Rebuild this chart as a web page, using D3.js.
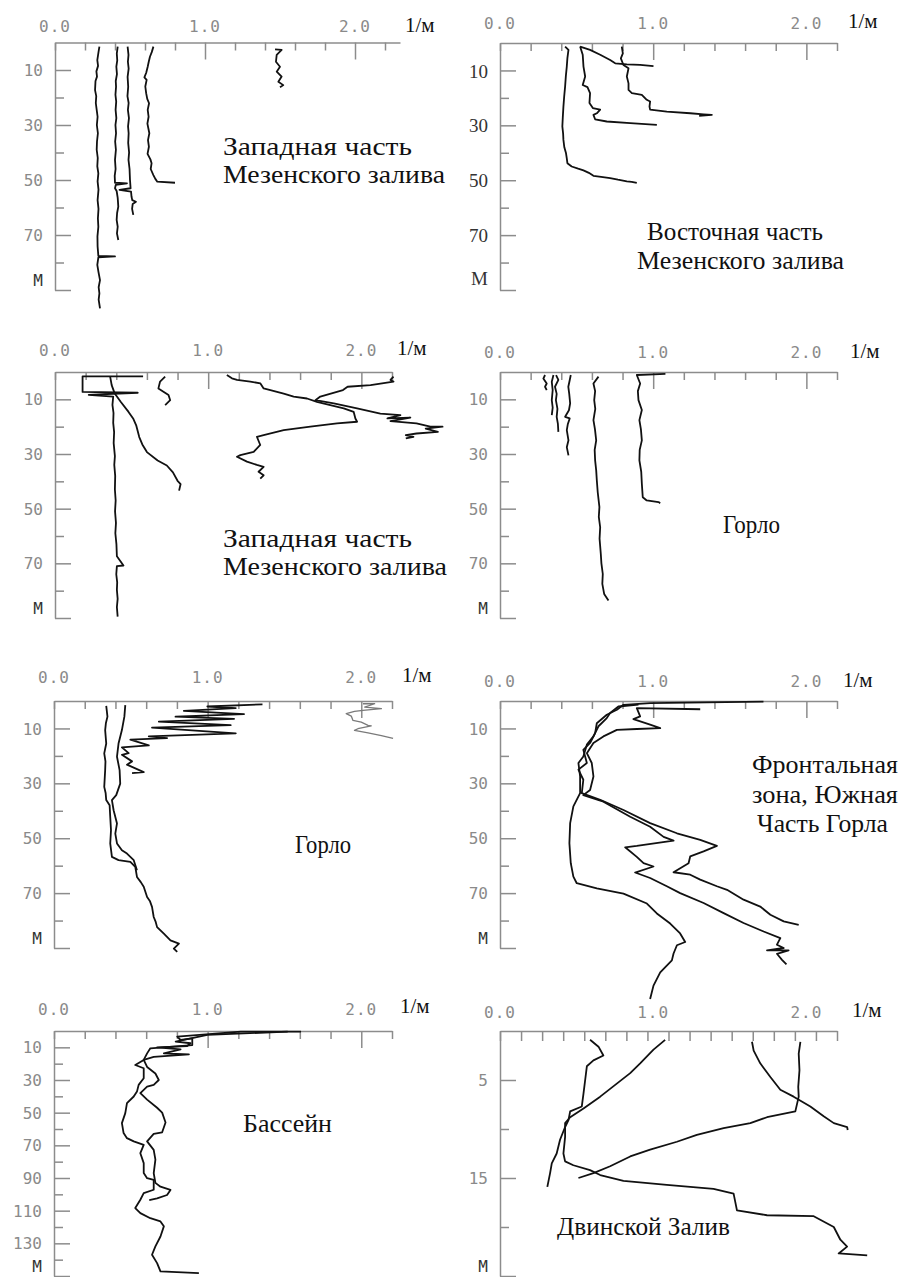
<!DOCTYPE html>
<html>
<head>
<meta charset="utf-8">
<script src="https://cdn.jsdelivr.net/npm/d3@7"></script>
<style>
  body { margin: 0; background: #fff; }
  .axis path, .axis line { stroke: #8c8c8c; stroke-width: 1.5; }
  .axis text { font-family: "DejaVu Sans Mono", monospace; font-size: 16px; fill: #8a8a8a; }
  .axis.serif text { font-family: "Liberation Serif", serif; font-size: 19px; fill: #333; }
  .xlab { font-family: "DejaVu Sans Mono", monospace; font-size: 16px; fill: #8a8a8a; letter-spacing: 1px; }
  .profile { fill: none; stroke: #111; stroke-width: 1.8; stroke-linejoin: round; }
  .profile.grey { stroke: #7a7a7a; stroke-width: 1.3; }
  .title { font-family: "Liberation Serif", serif; font-size: 26px; fill: #111; }
  .unit { font-family: "Liberation Serif", serif; font-size: 21px; fill: #111; }
</style>
</head>
<body>
<div id="chart"></div>
<script>
// ---- data: profiles as [value 1/м, depth м] ----

// Западная часть Мезенского залива (1)
const p1a = [[0.296,1.5],[0.29,3.5],[0.282,6.4],[0.287,8.5],[0.276,10.5],[0.28,12.4],[0.27,14],[0.267,17.3],[0.275,19.5],[0.272,22],[0.278,24.5],[0.284,27],[0.279,30],[0.286,33],[0.28,36],[0.278,39],[0.285,42],[0.282,45],[0.289,47.6],[0.284,50.5],[0.29,53.5],[0.284,57.3],[0.29,60.5],[0.286,64],[0.289,67],[0.283,70.5],[0.284,74.2],[0.289,77.6],[0.4,77.8],[0.289,78.1],[0.282,80.9],[0.29,83.5],[0.3,86.4],[0.291,89],[0.296,91.2],[0.291,93.5],[0.3,96.7]]
const p1b = [[0.418,1.5],[0.412,4],[0.415,6.5],[0.409,8.8],[0.413,11.5],[0.405,14],[0.407,16.1],[0.403,19],[0.408,21.5],[0.404,24.5],[0.409,27.5],[0.403,30],[0.407,33],[0.401,36],[0.406,39],[0.4,42.7],[0.404,46],[0.398,48.5],[0.4,51],[0.48,51.2],[0.405,51.8],[0.4,53],[0.411,54],[0.418,56.5],[0.422,59.7],[0.414,62],[0.411,64.5],[0.418,67],[0.413,69.4],[0.422,71.8]]
const p1c = [[0.484,1.5],[0.49,4.5],[0.486,7],[0.491,9.5],[0.484,12.5],[0.488,16.1],[0.483,19.5],[0.491,22],[0.486,24.5],[0.493,27.5],[0.487,30.5],[0.491,33],[0.488,36.5],[0.494,40],[0.49,42.7],[0.497,46],[0.5,50],[0.504,53],[0.43,53.6],[0.507,54.2],[0.51,56],[0.515,57.3],[0.54,57.9],[0.518,58.7],[0.514,60.5],[0.522,62.7]]
const p1d = [[0.656,1.5],[0.645,3.5],[0.633,5.2],[0.625,7],[0.618,8.8],[0.608,11],[0.596,12.7],[0.611,13.6],[0.602,16],[0.608,18.5],[0.615,20.5],[0.627,22.1],[0.618,24.5],[0.624,27],[0.616,29.5],[0.629,33],[0.62,35.5],[0.626,37.9],[0.617,40.5],[0.636,42.5],[0.644,43.9],[0.638,46],[0.656,48.2],[0.668,49.5],[0.682,50.6],[0.8,51]]
const p1e = [[1.467,2.5],[1.511,2.7],[1.478,4.5],[1.473,7],[1.5,8.8],[1.478,10.6],[1.511,12.4],[1.489,14.3],[1.522,15.5],[1.5,16.3]]

// Восточная часть Мезенского залива (2)
const p2a = [[0.425,1.3],[0.447,2.5],[0.44,5.5],[0.436,8.6],[0.43,12],[0.425,15.9],[0.419,19.5],[0.414,23.2],[0.41,27],[0.407,30.4],[0.412,33],[0.414,35.3],[0.42,38],[0.431,40.2],[0.436,42],[0.44,43.8],[0.468,45],[0.51,45.8],[0.545,46.4],[0.58,47.3],[0.61,48.4],[0.66,48.8],[0.719,49.2],[0.77,49.8],[0.828,50.4],[0.86,50.6],[0.893,51]]
const p2b = [[0.523,1.3],[0.54,4.3],[0.545,8.6],[0.556,12.2],[0.54,15.3],[0.571,16.1],[0.588,18.3],[0.584,21.9],[0.606,23.7],[0.654,24.3],[0.632,25.6],[0.61,26.2],[0.621,27.8],[0.697,28.6],[0.85,29.2],[1.024,29.8]]
const p2c = [[0.523,1.3],[0.588,2.5],[0.654,4.3],[0.719,6.2],[0.752,7.4],[0.828,7.8],[0.915,8],[1.002,8.4]]
const p2d = [[0.795,1.3],[0.802,3.8],[0.789,5.6],[0.806,8],[0.839,9.2],[0.828,12.2],[0.839,14.7],[0.839,17.1],[0.861,18.3],[0.926,18.9],[0.958,20.7],[0.98,21.3],[0.976,23.2],[0.98,24.3],[1.089,25],[1.242,25.6],[1.329,26],[1.383,26.2],[1.3,26.5]]

// Западная часть Мезенского залива (3)
const p3a = [[0.575,1.6],[0.18,1.6],[0.18,7.3],[0.54,7.6],[0.22,8.4],[0.38,9],[0.375,12],[0.382,15],[0.38,18.6],[0.386,22],[0.383,26],[0.391,30.8],[0.387,34],[0.393,38],[0.391,43],[0.396,47],[0.392,51],[0.398,55.2],[0.394,59],[0.401,63],[0.404,67.4],[0.447,70.8],[0.404,71],[0.4,74],[0.406,77],[0.404,79.7],[0.409,83],[0.404,86],[0.409,89.5]]
const p3b = [[0.36,1.7],[0.37,4.8],[0.39,7.9],[0.43,11],[0.48,14.6],[0.51,17],[0.53,19.5],[0.55,23.8],[0.57,26.5],[0.6,29.3],[0.67,32.4],[0.73,34.2],[0.77,36.7],[0.8,39.8],[0.82,41],[0.81,43.4]]
const p3c = [[0.719,1.7],[0.686,3.5],[0.675,6],[0.708,7.2],[0.741,8.4],[0.752,10.3],[0.719,12.1]]
const p3d = [[1.122,1.1],[1.155,2.3],[1.188,2.9],[1.275,3.5],[1.341,4.2],[1.362,6],[1.406,6.6],[1.493,7.9],[1.558,9],[1.645,9.7],[1.71,10.9],[1.797,12.1],[1.885,13.3],[1.95,14.6],[1.961,17],[1.972,18.2],[1.841,18.8],[1.667,20],[1.493,21.3],[1.362,23.1],[1.318,23.7],[1.34,26.7],[1.297,29.2],[1.21,30.4],[1.188,31],[1.253,32.8],[1.318,34],[1.362,34.7],[1.329,36.5],[1.362,37.8],[1.34,39]]
const p3e = [[2.21,1.7],[2.19,2.9],[2.21,3.5],[2.06,4.8],[1.91,5.4],[1.88,6.6],[1.732,9],[1.7,10.3],[1.82,11.5],[1.972,13.3],[2.124,15.2],[2.255,15.8],[2.17,17],[2.32,16.7],[2.19,18],[2.36,18.8],[2.45,20],[2.53,20],[2.42,20.7],[2.5,21.9],[2.36,22.5],[2.29,23.1],[2.34,23.7],[2.29,24.3]]

// Горло (4)
const p4a = [[0.294,1.1],[0.283,2.4],[0.305,4.2],[0.294,5.4],[0.305,6.6]]
const p4b = [[0.349,1.1],[0.338,3.6],[0.344,6.6],[0.338,10.3],[0.344,13],[0.338,15.8]]
const p4c = [[0.366,1.1],[0.381,2.9],[0.359,5.4],[0.37,8],[0.365,10.3],[0.375,13.5],[0.37,16.4],[0.378,19],[0.381,21.9]]
const p4d = [[0.462,1.1],[0.455,3],[0.446,5.4],[0.452,8],[0.458,11.5],[0.45,14],[0.425,16.4],[0.455,17],[0.443,19],[0.436,21.3],[0.447,25],[0.436,27.5],[0.447,30.5]]
const p4e = [[0.643,1.7],[0.61,4.2],[0.621,7],[0.615,10.3],[0.622,13.5],[0.61,17.6],[0.62,21],[0.628,25],[0.618,28.5],[0.621,32.3],[0.628,36],[0.632,39.6],[0.638,44],[0.649,49.4],[0.645,53],[0.654,56.8],[0.65,61],[0.658,66.5],[0.662,70],[0.671,73.9],[0.668,77.5],[0.68,81.2],[0.708,83.6]]
const p4f = [[1.08,0.7],[0.893,1.1],[0.915,4.2],[0.9,7],[0.904,10.3],[0.926,13.9],[0.91,17.6],[0.92,21],[0.926,25],[0.912,28.5],[0.91,32.3],[0.922,36.5],[0.926,40.9],[0.932,45.8],[0.958,47],[1.035,47.6],[1.046,48]]

// Горло (5)
const p5a = [[0.34,1.8],[0.348,5.7],[0.338,8],[0.333,10.6],[0.34,15.5],[0.327,19.1],[0.335,22],[0.333,25.2],[0.327,31.3],[0.336,33.5],[0.34,36.1],[0.362,38],[0.366,42.2],[0.371,47.1],[0.366,51.9],[0.377,56.8],[0.42,58],[0.497,58.6],[0.529,60.4],[0.54,64.1],[0.565,66],[0.584,67.7],[0.606,71.4],[0.625,73],[0.638,75],[0.649,78.7],[0.662,80.5],[0.671,82.4],[0.715,84.8],[0.758,87.2],[0.813,88.4],[0.78,90.2],[0.802,91.4]]
const p5b = [[0.464,1.5],[0.458,5.7],[0.442,10.6],[0.42,15.5],[0.41,20.3],[0.427,25.2],[0.431,30.1],[0.405,34.3],[0.377,36.1],[0.388,39.8],[0.41,44.6],[0.399,48.3],[0.41,51.9],[0.442,54.4],[0.475,55.6],[0.519,58],[0.54,61.7]]
const p5c = [[1.357,1.2],[0.998,2],[1.183,2.6],[0.845,3.6],[1.237,4.8],[0.791,5.7],[1.172,6.5],[0.682,7.5],[1.15,8.8],[0.638,9.7],[1.183,11.8],[0.617,12.9],[0.736,13.5],[0.497,14.1],[0.617,16.2],[0.442,16.9],[0.486,19],[0.442,19.6],[0.508,22],[0.475,23.2],[0.584,25.9],[0.508,26.3]]
const p5d = [[2.011,1],[2.087,1],[2.022,2.2],[2.131,2.8],[2.011,3.4],[1.956,3.8],[1.902,4.6],[1.935,5.5],[1.946,7.1],[2.0,7.7],[2.044,8.9],[2.065,9.1],[1.978,10.1],[1.956,10.7],[2.044,11.6],[2.131,12.6],[2.207,13.6]]

// Фронтальная зона, Южная часть Горла (6)
const p6a = [[0.904,1.3],[0.773,2],[0.719,4.4],[0.697,6.2],[0.643,9.2],[0.61,12.9],[0.567,15.9],[0.544,20.2],[0.512,22.6],[0.523,27.5],[0.523,33.6],[0.479,38.4],[0.458,44.5],[0.453,51.8],[0.462,59.1],[0.479,64],[0.501,66.4],[0.632,68.3],[0.806,70.2],[0.959,73.8],[1.024,77.4],[1.111,81.1],[1.176,84.7],[1.209,87.8],[1.155,89],[1.133,92],[1.122,94.5],[1.046,98.9],[1.002,103.7],[0.98,108.6]]
const p6b = [[1.72,0.2],[0.98,0.8],[0.806,1.4],[0.763,3.2],[0.697,5],[0.632,8.1],[0.621,11.7],[0.588,15.3],[0.544,17.8],[0.567,22.6],[0.512,25],[0.544,28.7],[0.534,33.6],[0.654,36],[0.806,39.7],[0.98,44.5],[1.155,48.2],[1.307,50.6],[1.416,52.8],[1.329,54.8],[1.242,56.6],[1.231,59.1],[1.133,62.4],[1.242,63.3],[1.307,65.1],[1.416,67.5],[1.482,68.8],[1.59,72.4],[1.699,74.9],[1.765,77.9],[1.852,80.3],[1.95,81.6]]
const p6c = [[1.307,3],[0.893,2.6],[0.915,5.6],[0.871,6.6],[0.98,8.6],[1.046,9.9],[0.893,10.2],[0.763,10.5],[0.675,12.9],[0.61,15.3],[0.567,19],[0.599,22.6],[0.61,27.5],[0.588,32.4],[0.544,34.3],[0.675,36.7],[0.85,42.2],[0.98,45.8],[1.068,49.5],[1.133,50.9],[0.893,52.8],[0.817,53.3],[0.893,56.8],[0.937,59.1],[1.002,60.3],[0.882,62.5],[0.98,64.5],[1.089,67.5],[1.176,70],[1.329,73.6],[1.46,77.3],[1.59,80.9],[1.721,84],[1.83,86.4],[1.808,88.8],[1.852,90],[1.743,90.9],[1.884,90.9],[1.808,92.1],[1.841,94.3],[1.87,96]]

// Бассейн (7)
const p7a = [[1.608,0.4],[1.216,0.4],[0.802,3.5],[0.824,5.5],[0.9,4.5],[0.9,8.6],[0.627,10.6],[0.606,13.7],[0.584,17.7],[0.529,20.8],[0.584,22.8],[0.584,28.9],[0.551,33],[0.54,37.1],[0.519,40.1],[0.475,44.2],[0.464,50.3],[0.442,56.4],[0.453,62.5],[0.475,65.6],[0.519,67.6],[0.584,69.7],[0.562,74.8],[0.584,80.9],[0.584,87],[0.606,90.1],[0.649,91.1],[0.649,97.2],[0.584,99.3],[0.562,103.3],[0.529,108.4],[0.562,111.5],[0.627,114.6],[0.693,116.6],[0.715,119.6],[0.693,125.8],[0.66,131.9],[0.638,137],[0.671,142.1],[0.693,147.2],[0.943,148.2]]
const p7b = [[1.521,0.4],[0.998,2.4],[0.792,6.5],[0.889,7.5],[0.867,9.2],[0.671,10],[0.824,11.3],[0.715,13.7],[0.878,14.3],[0.649,15.9],[0.584,17.7],[0.606,22],[0.66,26],[0.682,30],[0.649,33],[0.606,34],[0.562,38],[0.606,42],[0.671,47],[0.704,50],[0.726,56],[0.704,62],[0.649,63],[0.606,67.6],[0.649,72.8],[0.66,78.8],[0.649,87],[0.66,93],[0.693,95.3],[0.758,97.3],[0.736,100.4],[0.671,102.5],[0.62,103.5]]

// Двинской Залив (8)
const p8a = [[0.588,0.9],[0.643,1.6],[0.675,2.5],[0.61,3],[0.567,3.6],[0.556,5],[0.545,6.4],[0.534,7.7],[0.458,8.2],[0.447,9.1],[0.425,9.8],[0.392,11.1],[0.37,12.5],[0.338,13.5],[0.327,14.5],[0.309,15.9]]
const p8b = [[1.078,0.9],[1.002,1.9],[0.915,3.3],[0.85,4.3],[0.752,5.5],[0.654,6.7],[0.545,7.9],[0.458,8.8],[0.425,9.4],[0.425,10.8],[0.414,12.5],[0.425,13.3],[0.479,13.7],[0.588,14.2],[0.654,14.7],[0.806,15.3],[1.089,15.7],[1.394,16.1],[1.525,16.6],[1.547,18.3],[1.743,18.8],[2.048,18.9],[2.179,20],[2.222,21.3],[2.266,22],[2.211,22.7],[2.397,22.9]]
const p8c = [[1.645,1.1],[1.656,2],[1.699,3.3],[1.765,4.7],[1.83,6],[1.917,6.7],[2.026,7.7],[2.113,8.7],[2.179,9.4],[2.266,9.8],[2.27,10.1]]
const p8d = [[1.961,1.1],[1.95,2.3],[1.955,4],[1.947,5.7],[1.95,6.7],[1.928,8.2],[1.743,8.8],[1.634,9.4],[1.46,9.9],[1.285,10.6],[1.155,11.3],[0.98,12.1],[0.85,12.8],[0.719,13.8],[0.61,14.5],[0.512,15]]

// ---- tick labels and titles ----
const xLabelValues = [0, 1, 2]
const xLabelText = ['0.0', '1.0', '2.0']
const depthTicks90 = [10, 20, 30, 40, 50, 60, 70, 80, 90]
const depthLabels90 = ['10', '', '30', '', '50', '', '70', '', 'М']
const depthTicks150 = [10, 20, 30, 40, 50, 60, 70, 80, 90, 100, 110, 120, 130, 140, 150]
const depthLabels150 = ['10', '', '30', '', '50', '', '70', '', '90', '', '110', '', '130', '', 'М']
const depthTicks25 = [5, 10, 15, 20, 25]
const depthLabels25 = ['5', '', '15', '', 'М']
const unitText = '1/м'
const titles = [
  ['Западная часть', 'Мезенского залива'],
  ['Восточная часть', 'Мезенского залива'],
  ['Западная часть', 'Мезенского залива'],
  ['Горло'],
  ['Горло'],
  ['Фронтальная', 'зона, Южная', 'Часть Горла'],
  ['Бассейн'],
  ['Двинской Залив']
]
const profiles = [
  [p1a, p1b, p1c, p1d, p1e],
  [p2a, p2b, p2c, p2d],
  [p3a, p3b, p3c, p3d, p3e],
  [p4a, p4b, p4c, p4d, p4e, p4f],
  [p5a, p5b, p5c, p5d],
  [p6a, p6b, p6c],
  [p7a, p7b],
  [p8a, p8b, p8c, p8d]
]

// ---- layout (pixels) ----
const width = 900,
      height = 1277

const step02 = d3.range(0, 12).map(i => +(i * 0.2).toFixed(1))
const step16 = d3.range(0, 17).map(i => i * 2.2 / 16)

const layout = [
  { x0: 55, x1: 400, xMax: 2.3, yTop: 42.5, yBot: 290, dMax: 90, gap: 11, unit: [405, 32],
    titlePos: [[223, 155, 189], [223, 183, 222]] },
  { x0: 500, x1: 837, xMax: 2.2, yTop: 43, yBot: 290, dMax: 90, gap: 14, unit: [848, 28], serif: true,
    titlePos: [[647, 240, 176], [637, 269, 207]] },
  { x0: 55, x1: 392, xMax: 2.2, yTop: 372, yBot: 618, dMax: 90, gap: 16, unit: [397, 355],
    titlePos: [[223, 547, 189], [223, 575, 224]] },
  { x0: 500, x1: 837, xMax: 2.2, yTop: 372, yBot: 618, dMax: 90, gap: 14, unit: [850, 358],
    titlePos: [[723, 533, 57]] },
  { x0: 54, x1: 392, xMax: 2.2, yTop: 701, yBot: 948, dMax: 90, gap: 18, unit: [402, 682],
    titlePos: [[295, 853, 56]], grey: [3] },
  { x0: 500, x1: 837, xMax: 2.2, yTop: 701, yBot: 948, dMax: 90, gap: 14, unit: [843, 687],
    titlePos: [[752, 773, 146], [752, 803, 146], [757, 832, 131]] },
  { x0: 54, x1: 392, xMax: 2.2, yTop: 1031, yBot: 1276, dMax: 150, gap: 16, unit: [400, 1013],
    titlePos: [[243, 1132, 89]] },
  { x0: 500, x1: 837, xMax: 2.2, yTop: 1031, yBot: 1276, dMax: 25, gap: 13, unit: [852, 1017],
    titlePos: [[557, 1235, 173]], evenTicks: true }
]

const svg = d3.select('#chart')
  .append('svg')
  .attr('width', width)
  .attr('height', height)

layout.forEach((p, i) => {
  const x = d3.scaleLinear().domain([0, p.xMax]).range([p.x0, p.x1])
  const y = d3.scaleLinear().domain([0, p.dMax]).range([p.yTop, p.yBot])
  const g = svg.append('g')

  // depth ticks for this panel
  let dTicks = depthTicks90, dLabels = depthLabels90
  if (p.dMax === 150) { dTicks = depthTicks150; dLabels = depthLabels150 }
  if (p.dMax === 25) { dTicks = depthTicks25; dLabels = depthLabels25 }

  // top axis (1/м)
  const xTicks = p.evenTicks ? step16 : step02.filter(v => v <= 2.2)
  const xAx = g.append('g')
    .attr('class', 'axis')
    .attr('transform', `translate(0,${p.yTop})`)
    .call(d3.axisTop(x).tickValues(xTicks).tickSize(-8).tickSizeOuter(0).tickFormat(''))
  xAx.selectAll('.tick line')
    .attr('y2', d => p.evenTicks ? 10 : (Math.abs(d - 1) < 1e-6 || Math.abs(d - 2) < 1e-6 ? 17 : 8))

  g.selectAll('.xlab')
    .data(xLabelValues)
    .join('text')
    .attr('class', 'xlab')
    .attr('x', d => x(d))
    .attr('y', p.yTop - p.gap)
    .attr('text-anchor', 'middle')
    .text((d, k) => xLabelText[k])

  // left axis (depth)
  const yAx = g.append('g')
    .attr('class', p.serif ? 'axis serif' : 'axis')
    .attr('transform', `translate(${p.x0},0)`)
    .call(d3.axisLeft(y).tickValues(dTicks).tickSize(-9).tickSizeOuter(0).tickPadding(12)
      .tickFormat((d, k) => dLabels[k]))
  yAx.selectAll('.tick line').attr('x2', (d, k) => dLabels[k] !== '' ? 16 : 9)
  yAx.selectAll('.tick text').attr('dy', '0.35em')
  // bottom "М" sits a little above its tick
  yAx.selectAll('.tick').filter((d, k) => dLabels[k] === 'М').select('text')
    .attr('dy', '-0.3em')
    .style('fill', '#333')

  // unit label
  g.append('text')
    .attr('class', 'unit')
    .attr('x', p.unit[0])
    .attr('y', p.unit[1])
    .text(unitText)

  // profiles
  const line = d3.line().x(d => x(d[0])).y(d => y(d[1]))
  g.selectAll('.profile')
    .data(profiles[i])
    .join('path')
    .attr('class', (d, k) => p.grey && p.grey.includes(k) ? 'profile grey' : 'profile')
    .attr('d', line)

  // title
  g.selectAll('.title')
    .data(titles[i])
    .join('text')
    .attr('class', 'title')
    .attr('x', (d, k) => p.titlePos[k][0])
    .attr('y', (d, k) => p.titlePos[k][1])
    .attr('textLength', (d, k) => p.titlePos[k][2])
    .attr('lengthAdjust', 'spacingAndGlyphs')
    .text(d => d)
})
</script>
</body>
</html>
